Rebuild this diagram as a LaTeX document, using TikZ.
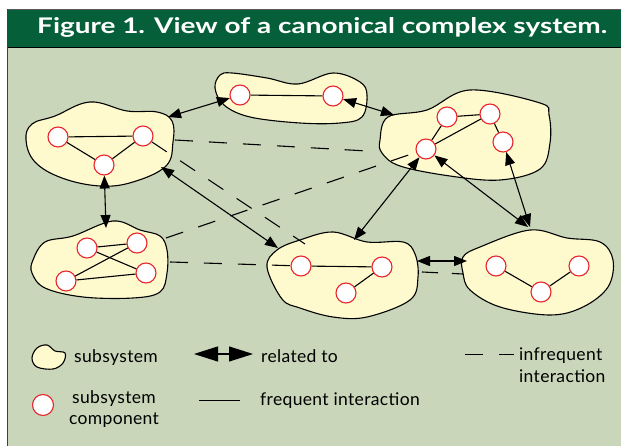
\documentclass[tikz,border=0pt]{standalone}
\usepackage{fontspec}
\setmainfont{Lato}
\usetikzlibrary{arrows.meta}
\definecolor{bgreen}{HTML}{C9D6B9}
\definecolor{tgreen}{HTML}{05603A}
\definecolor{blobfill}{HTML}{FFFACE}
\definecolor{compred}{HTML}{E8262C}
\tikzset{
  comp/.style={circle, draw=compred, fill=white, line width=1.1pt, minimum size=20pt, inner sep=0pt},
  blob/.style={draw=black, fill=blobfill, line width=1.1pt},
  freq/.style={line width=1.1pt},
  infreq/.style={line width=1.1pt, dash pattern=on 18pt off 16pt},
  rel/.style={{Triangle[length=13pt,width=10pt]}-{Triangle[length=13pt,width=10pt]}, line width=1.1pt},
  lbl/.style={font=\fontsize{17.5}{20}\selectfont\addfontfeatures{LetterSpace=2}, inner sep=0pt},
}
\begin{document}
\begin{tikzpicture}[x=1pt,y=-1pt]
\useasboundingbox (0,0) rectangle (621,446);
% frame
\fill[white] (0,0) rectangle (621,446);
\fill[bgreen] (7,47) rectangle (621,446);
\fill[tgreen] (7,9.5) rectangle (621,47);
\draw[line width=1pt, gray!70!black] (7,9.5) -- (621,9.5);
\draw[line width=1.4pt, black] (7,47.5) -- (621,47.5);
\draw[line width=1.6pt, black!75] (7.5,9) -- (7.5,446);
\node[text=white, anchor=base west, inner sep=0pt] (title) at (37,34) {\resizebox{570pt}{16pt}{\fontsize{22}{24}\selectfont\bfseries Figure 1. View of a canonical complex system.}};

% blobs
\draw[blob] plot[smooth cycle, tension=0.65] coordinates {(26,140) (32,124) (55,116) (90,102) (127,111) (157,112) (172,121) (173,142) (166,166) (133,182) (100,186) (62,178) (35,162)};
\draw[blob] plot[smooth cycle, tension=0.6] coordinates {(215,88) (220,75) (232,73) (267,78) (298,84) (333,73) (360,82) (367,95) (362,117) (340,123) (300,123) (250,117) (224,105)};
\draw[blob] plot[smooth cycle, tension=0.6] coordinates {(380,140) (388,117) (427,110) (470,90) (540,103) (549,115) (550,143) (540,169) (500,180) (450,176) (400,166) (382,153)};
\draw[blob] plot[smooth cycle, tension=0.6] coordinates {(33,260) (45,242) (73,236) (113,221) (140,230) (160,236) (167,250) (167,273) (160,292) (133,298) (83,297) (45,288) (32,273)};
\draw[blob] plot[smooth cycle, tension=0.6] coordinates {(267,267) (277,250) (300,240) (333,232) (367,242) (403,242) (415,254) (418,277) (410,300) (367,317) (333,317) (300,308) (282,299)};
\draw[blob] plot[smooth cycle, tension=0.6] coordinates {(463,257) (480,247) (530,230) (567,238) (600,242) (613,260) (608,287) (583,307) (550,315) (500,307) (470,290) (463,273)};

% components
\node[comp] (a1) at (58,137) {};
\node[comp] (a2) at (143,136) {};
\node[comp] (a3) at (104,165) {};
\node[comp] (b1) at (240,95) {};
\node[comp] (b2) at (333,96) {};
\node[comp] (c1) at (447,117) {};
\node[comp] (c2) at (490,114) {};
\node[comp] (c3) at (503,142) {};
\node[comp] (c4) at (426,149) {};
\node[comp] (d1) at (301,266) {};
\node[comp] (d2) at (382,267) {};
\node[comp] (d3) at (346,293) {};
\node[comp] (e1) at (87,248) {};
\node[comp] (e2) at (137,243) {};
\node[comp] (e3) at (66,281) {};
\node[comp] (e4) at (146,273) {};
\node[comp] (f1) at (496,266) {};
\node[comp] (f2) at (579,266) {};
\node[comp] (f3) at (541,292) {};

% frequent interactions
\draw[freq] (a1) -- (a2);
\draw[freq] (a1) -- (a3);
\draw[freq] (a2) -- (a3);
\draw[freq] (b1) -- (b2);
\draw[freq] (c1) -- (c2);
\draw[freq] (c2) -- (c3);
\draw[freq] (c1) -- (c4);
\draw[freq] (c2) -- (c4);
\draw[freq] (d1) -- (d2);
\draw[freq] (d2) -- (d3);
\draw[freq] (e1) -- (e2);
\draw[freq] (e1) -- (e4);
\draw[freq] (e2) -- (e3);
\draw[freq] (e3) -- (e4);
\draw[freq] (f1) -- (f3);
\draw[freq] (f3) -- (f2);

% boundary points
\coordinate (pAC) at (175,140);
\coordinate (pCA) at (367,151);
\coordinate (pDA) at (305,244);
\coordinate (pEC) at (166,238);
\coordinate (pED) at (170,262);
\coordinate (pDF) at (422,272);
\coordinate (pFD) at (463,274);
\coordinate (pAB) at (168,117);
\coordinate (pCB) at (394,115);
\coordinate (pEA) at (106,228);
\coordinate (pAD) at (161,167);
\coordinate (pDAr) at (278,248);
\coordinate (pDC) at (354,240);
\coordinate (pFC) at (528,227);
\coordinate (pFC2) at (530,227);
\coordinate (pDFr) at (417,261);
\coordinate (pFDr) at (467,261);

% infrequent interactions
\draw[infreq] (pAC) -- (pCA);
\draw[infreq] (a2) -- (pDA);
\draw[infreq] (pEC) -- (c4);
\draw[infreq] (pED) -- (d1);
\draw[infreq, dash pattern=on 16pt off 14pt] (pDF) -- (pFD);

% related-to arrows
\draw[rel] (pAB) -- (b1);
\draw[rel] (b2) -- (pCB);
\draw[rel] (a3) -- (pEA);
\draw[rel] (pAD) -- (pDAr);
\draw[rel] (c4) -- (pDC);
\draw[rel] (c4) -- (pFC);
\draw[rel] (c3) -- (pFC2);
\draw[rel] (pDFr) -- (pFDr);

% legend
\draw[blob] plot[smooth cycle, tension=0.6] coordinates {(32,358) (37,348) (47,345) (55,351) (65,353) (63,363) (53,369) (37,367)};
\node[lbl, anchor=base west] (lsub) at (74,362) {subsystem};
\coordinate (lr1) at (194,354);
\coordinate (lr2) at (253,354);
\draw[{Triangle[length=24pt,width=15pt]}-{Triangle[length=24pt,width=15pt]}, line width=1.1pt] (lr1) -- (lr2);
\node[lbl, anchor=base west] (lrel) at (261,362) {related to};
\coordinate (li1) at (465,354);
\coordinate (li2) at (483,354);
\coordinate (li3) at (499,354);
\coordinate (li4) at (514,354);
\draw[line width=1pt] (li1) -- (li2);
\draw[line width=1pt] (li3) -- (li4);
\node[lbl, anchor=base west] (linf) at (519,360) {infrequent};
\node[lbl, anchor=base west] (linf2) at (519,382) {interaction};
\node[comp, minimum size=21pt] (lcomp) at (43,405) {};
\node[lbl, anchor=base] (lsc1) at (114,403) {subsystem};
\node[lbl, anchor=base] (lsc2) at (114,424) {component};
\coordinate (lf1) at (199,400);
\coordinate (lf2) at (240,400);
\draw[line width=1pt] (lf1) -- (lf2);
\node[lbl, anchor=base west] (lfreq) at (260,405) {frequent interaction};
\end{tikzpicture}
\end{document}
